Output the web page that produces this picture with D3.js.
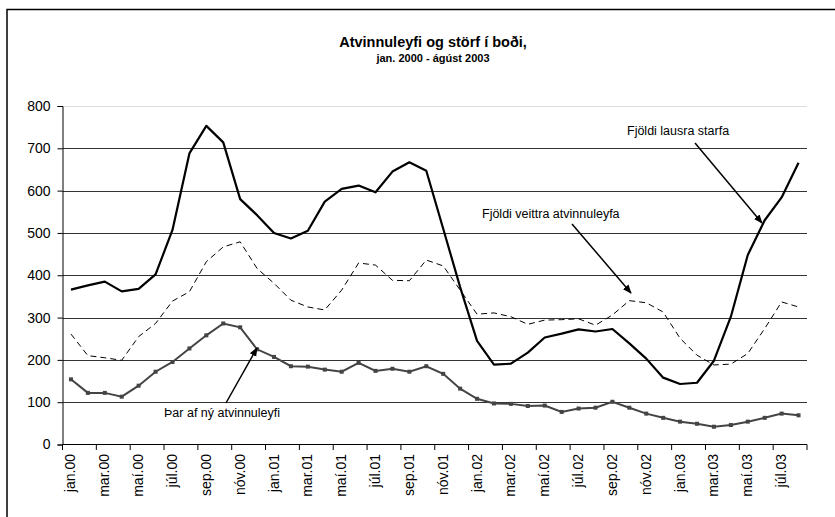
<!DOCTYPE html>
<html>
<head>
<meta charset="utf-8">
<script src="https://cdn.jsdelivr.net/npm/d3@7"></script>
<style>
  body { margin: 0; background: #fff; }
  text { font-family: Arial, "Liberation Sans", sans-serif; }
</style>
</head>
<body>
<div id="container"></div>
<script>
// months jan 2000 - aug 2003
const monthNames = ["jan","feb","mar","apr","maí","jún","júl","ágú","sep","okt","nóv","des"];
const years = ["00","01","02","03"];
const months = years.flatMap(y => monthNames.map(m => m + "." + y)).slice(0, 44);

// Fjöldi lausra starfa
const lausStorf = [366,376,385,362,368,402,507,688,753,714,580,542,
                   500,487,505,574,604,612,596,645,667,647,510,372,
                   245,189,191,217,253,262,272,267,273,239,203,158,
                   143,146,198,302,448,530,584,666];
// Fjöldi veittra atvinnuleyfa
const veittLeyfi = [261,210,205,199,255,286,339,361,432,467,479,416,
                    381,341,325,318,365,429,424,388,387,436,422,365,
                    308,311,302,284,294,295,297,282,306,340,335,313,
                    251,211,188,190,215,274,337,325];
// Þar af ný atvinnuleyfi
const nyLeyfi = [154,122,122,113,139,172,195,227,258,286,277,225,
                 207,185,184,177,172,193,174,179,172,185,167,132,
                 108,97,96,91,92,77,85,87,101,87,73,63,
                 54,49,42,46,54,63,73,69];

const yTicks = [0,100,200,300,400,500,600,700,800];

const width = 835, height = 517;

let viz = d3.select("#container")
  .append("svg")
    .attr("width", width)
    .attr("height", height)
;

// outer frame (runs off the right and bottom edge)
viz.append("rect")
    .attr("x", 7)
    .attr("y", 9.5)
    .attr("width", 840)
    .attr("height", 520)
    .attr("fill", "none")
    .attr("stroke", "black")
    .attr("stroke-width", 1.5)
;

// title
viz.append("text")
    .text("Atvinnuleyfi og störf í boði,")
    .attr("x", 433)
    .attr("y", 47)
    .attr("text-anchor", "middle")
    .attr("font-size", 14.5)
    .attr("font-weight", "bold")
;
viz.append("text")
    .text("jan. 2000 - ágúst 2003")
    .attr("x", 433)
    .attr("y", 62)
    .attr("text-anchor", "middle")
    .attr("font-size", 11)
    .attr("font-weight", "bold")
;

const x = d3.scaleBand()
    .domain(months)
    .range([62.5, 807])
    .padding(0)
;
const y = d3.scaleLinear()
    .domain([0, 800])
    .range([444.5, 106])
;
const cx = d => x(d) + x.bandwidth() / 2;

// gridlines
viz.append("g")
  .selectAll("line")
  .data(yTicks.filter(t => t > 0))
  .join("line")
    .attr("x1", 62.5)
    .attr("x2", 807)
    .attr("y1", d => Math.round(y(d)) + 0.5)
    .attr("y2", d => Math.round(y(d)) + 0.5)
    .attr("stroke", d => d === 800 ? "#ddd" : "#333")
    .attr("stroke-width", 1)
;

// y axis
const yAxis = viz.append("g")
    .attr("transform", "translate(62.5,0)")
    .call(d3.axisLeft(y).tickValues(yTicks).tickSize(5).tickPadding(7))
;
yAxis.select(".domain").attr("stroke", "black");
yAxis.selectAll("text").attr("font-size", 14).attr("font-family", "Arial, 'Liberation Sans', sans-serif").attr("fill", "black");

// x axis line
viz.append("line")
    .attr("x1", 62.5)
    .attr("x2", 807)
    .attr("y1", 444.5)
    .attr("y2", 444.5)
    .attr("stroke", "black")
;

// x tick marks at every second category boundary
const tickPos = months.filter((m, i) => i % 2 === 0).map(m => x(m)).concat([x.range()[1]]);
viz.append("g")
  .selectAll("line")
  .data(tickPos)
  .join("line")
    .attr("x1", d => d)
    .attr("x2", d => d)
    .attr("y1", 444.5)
    .attr("y2", 450)
    .attr("stroke", "black")
;

// x labels
viz.append("g")
  .selectAll("text")
  .data(months.filter((m, i) => i % 2 === 0))
  .join("text")
    .text(d => d)
    .attr("transform", d => "translate(" + (cx(d) + 4.5) + ",454) rotate(-90)")
    .attr("text-anchor", "end")
    .attr("font-size", 14)
;

const line = d3.line()
    .x((d, i) => cx(months[i]))
    .y(d => y(d))
;

// dashed series
viz.append("path")
    .datum(veittLeyfi)
    .attr("d", line)
    .attr("fill", "none")
    .attr("stroke", "black")
    .attr("stroke-width", 1)
    .attr("stroke-dasharray", "6,4")
;

// new permits, gray with square markers
viz.append("path")
    .datum(nyLeyfi)
    .attr("d", line)
    .attr("fill", "none")
    .attr("stroke", "#444")
    .attr("stroke-width", 2)
;
viz.append("g")
  .selectAll("rect")
  .data(nyLeyfi)
  .join("rect")
    .attr("x", (d, i) => cx(months[i]) - 2)
    .attr("y", d => y(d) - 2)
    .attr("width", 4)
    .attr("height", 4)
    .attr("fill", "#444")
;

// vacancies, thick black
viz.append("path")
    .datum(lausStorf)
    .attr("d", line)
    .attr("fill", "none")
    .attr("stroke", "black")
    .attr("stroke-width", 2.2)
    .attr("stroke-linejoin", "round")
;

// arrow marker
viz.append("defs")
  .append("marker")
    .attr("id", "arrow")
    .attr("viewBox", "0 0 10 10")
    .attr("refX", 9)
    .attr("refY", 5)
    .attr("markerWidth", 6)
    .attr("markerHeight", 6)
    .attr("orient", "auto")
  .append("path")
    .attr("d", "M0,1 L10,5 L0,9 z")
    .attr("fill", "black")
;

// annotations
viz.append("text")
    .text("Fjöldi lausra starfa")
    .attr("x", 627)
    .attr("y", 135)
    .attr("font-size", 12.5)
;
viz.append("line")
    .attr("x1", 695)
    .attr("y1", 143)
    .attr("x2", 762)
    .attr("y2", 223)
    .attr("stroke", "black")
    .attr("stroke-width", 1.5)
    .attr("marker-end", "url(#arrow)")
;

viz.append("text")
    .text("Fjöldi veittra atvinnuleyfa")
    .attr("x", 482)
    .attr("y", 218)
    .attr("font-size", 12.5)
;
viz.append("line")
    .attr("x1", 572)
    .attr("y1", 224)
    .attr("x2", 631)
    .attr("y2", 293)
    .attr("stroke", "black")
    .attr("stroke-width", 1.5)
    .attr("marker-end", "url(#arrow)")
;

viz.append("text")
    .text("Þar af ný atvinnuleyfi")
    .attr("x", 164)
    .attr("y", 417)
    .attr("font-size", 12.5)
;
viz.append("line")
    .attr("x1", 226)
    .attr("y1", 403)
    .attr("x2", 257)
    .attr("y2", 348)
    .attr("stroke", "black")
    .attr("stroke-width", 1.5)
    .attr("marker-end", "url(#arrow)")
;
</script>
</body>
</html>
